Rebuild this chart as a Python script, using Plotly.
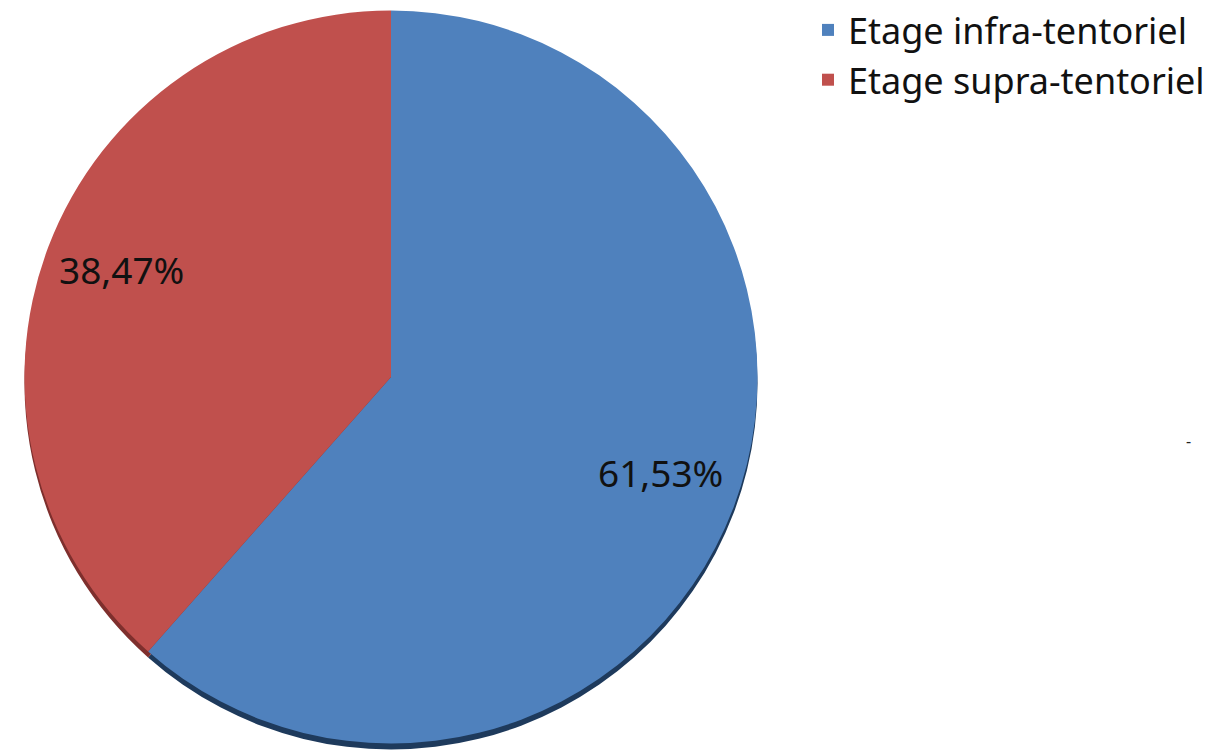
import math
import plotly.graph_objects as go

labels = ["Etage infra-tentoriel", "Etage supra-tentoriel"]
values = [61.53, 38.47]
text_labels = ["61,53%", "38,47%"]
colors = ["#4F81BD", "#C0504D"]
shadow_colors = ["#1E3A5C", "#7E2F2D"]

W, H = 1227, 750
cx, cy, D = 391, 376, 735  # pixel centre/diameter of the pie
shadow_dy = 6

def dom(cx, cy, D):
    return dict(x=[(cx - D / 2) / W, (cx + D / 2) / W],
                y=[1 - (cy + D / 2) / H, 1 - (cy - D / 2) / H])

fig = go.Figure()
fig.add_trace(go.Pie(labels=labels, values=values, sort=False, direction="clockwise",
                     marker=dict(colors=shadow_colors, line=dict(width=0)),
                     textinfo="none", hoverinfo="skip", showlegend=False,
                     domain=dom(cx, cy + shadow_dy, D)))
fig.add_trace(go.Pie(labels=labels, values=values, sort=False, direction="clockwise",
                     marker=dict(colors=colors, line=dict(width=0)),
                     textinfo="none", hoverinfo="label+percent", showlegend=True,
                     domain=dom(cx, cy, D)))

# label annotations at slice mid-angles
total = sum(values)
cum = 0
R = D / 2
label_cy = cy - 6
for v, t in zip(values, text_labels):
    mid = (cum + v / 2) / total * 2 * math.pi
    cum += v
    px = cx + 0.785 * R * math.sin(mid)
    py = label_cy - 0.785 * R * math.cos(mid)
    fig.add_annotation(x=px / W, y=1 - py / H, xref="paper", yref="paper", text=t,
                       xanchor="center", yanchor="middle", showarrow=False,
                       font=dict(size=37, color="#111111", family="Noto Sans"))

fig.add_annotation(x=1188 / W, y=1 - 440 / H, xref="paper", yref="paper", text="-",
                   xanchor="center", yanchor="middle", showarrow=False,
                   font=dict(size=16, color="#222222", family="Noto Sans"))

fig.update_layout(
    width=W, height=H, margin=dict(l=0, r=0, t=0, b=0),
    paper_bgcolor="white", plot_bgcolor="white",
    font=dict(family="Noto Sans", color="#111111"),
    legend=dict(x=808 / W, y=1 + 2 / H, xanchor="left", yanchor="top",
                font=dict(size=36, family="Noto Sans", color="#111111"),
                bgcolor="rgba(0,0,0,0)"),
)
fig.write_html("out.html")
